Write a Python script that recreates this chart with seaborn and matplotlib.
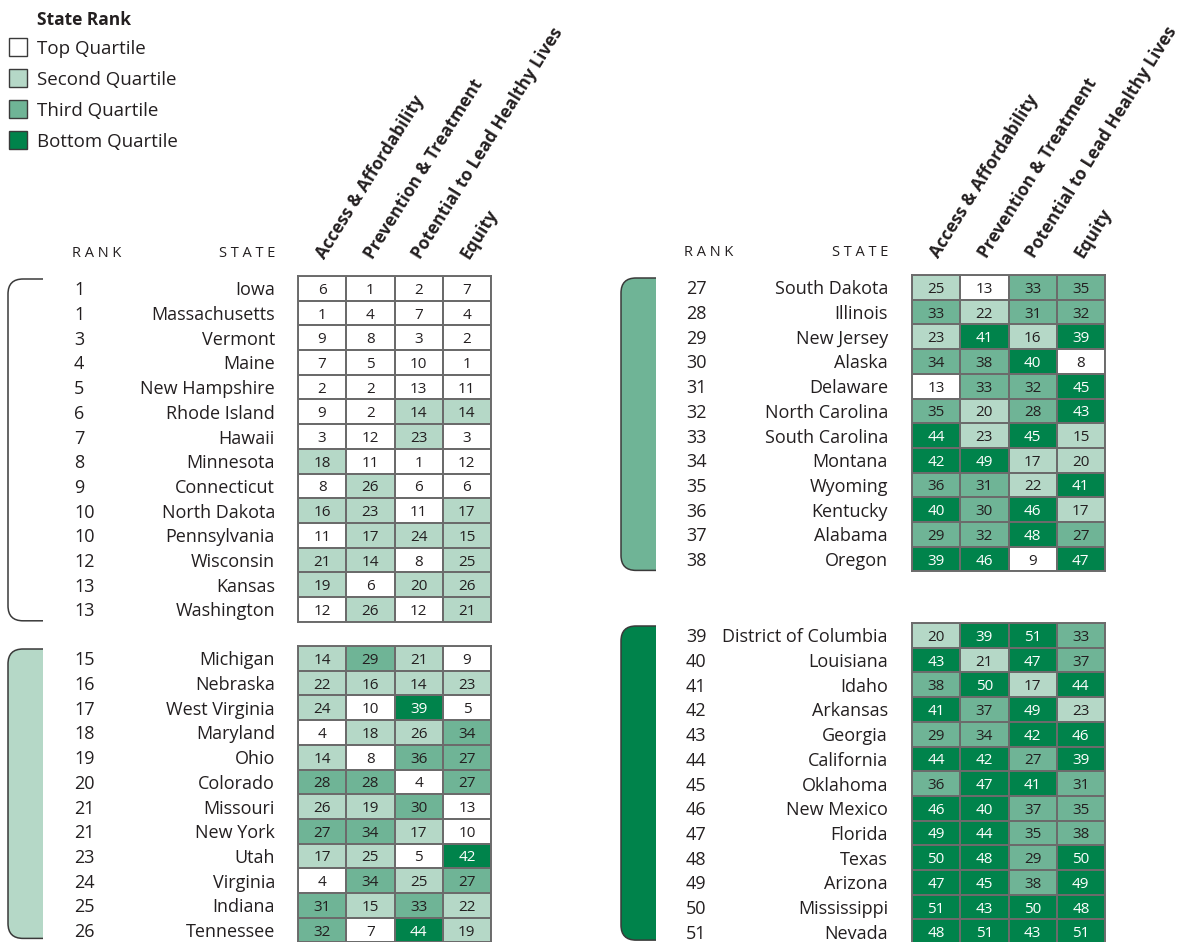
import numpy as np
import seaborn as sns
import matplotlib.pyplot as plt
from matplotlib.path import Path
from matplotlib.patches import PathPatch, Rectangle
from matplotlib.transforms import blended_transform_factory

sns.set_theme(style='white')
plt.rcParams['font.family'] = ['Open Sans', 'DejaVu Sans']

# data
columns = ['Access & Affordability', 'Prevention & Treatment',
           'Potential to Lead Healthy Lives', 'Equity']

ranks_lt = [1, 1, 3, 4, 5, 6, 7, 8, 9, 10, 10, 12, 13, 13]
states_lt = ['Iowa', 'Massachusetts', 'Vermont', 'Maine', 'New Hampshire',
             'Rhode Island', 'Hawaii', 'Minnesota', 'Connecticut',
             'North Dakota', 'Pennsylvania', 'Wisconsin', 'Kansas', 'Washington']
vals_lt = [[6, 1, 2, 7], [1, 4, 7, 4], [9, 8, 3, 2], [7, 5, 10, 1],
           [2, 2, 13, 11], [9, 2, 14, 14], [3, 12, 23, 3], [18, 11, 1, 12],
           [8, 26, 6, 6], [16, 23, 11, 17], [11, 17, 24, 15], [21, 14, 8, 25],
           [19, 6, 20, 26], [12, 26, 12, 21]]

ranks_lb = [15, 16, 17, 18, 19, 20, 21, 21, 23, 24, 25, 26]
states_lb = ['Michigan', 'Nebraska', 'West Virginia', 'Maryland', 'Ohio',
             'Colorado', 'Missouri', 'New York', 'Utah', 'Virginia',
             'Indiana', 'Tennessee']
vals_lb = [[14, 29, 21, 9], [22, 16, 14, 23], [24, 10, 39, 5], [4, 18, 26, 34],
           [14, 8, 36, 27], [28, 28, 4, 27], [26, 19, 30, 13], [27, 34, 17, 10],
           [17, 25, 5, 42], [4, 34, 25, 27], [31, 15, 33, 22], [32, 7, 44, 19]]

ranks_rt = [27, 28, 29, 30, 31, 32, 33, 34, 35, 36, 37, 38]
states_rt = ['South Dakota', 'Illinois', 'New Jersey', 'Alaska', 'Delaware',
             'North Carolina', 'South Carolina', 'Montana', 'Wyoming',
             'Kentucky', 'Alabama', 'Oregon']
vals_rt = [[25, 13, 33, 35], [33, 22, 31, 32], [23, 41, 16, 39], [34, 38, 40, 8],
           [13, 33, 32, 45], [35, 20, 28, 43], [44, 23, 45, 15], [42, 49, 17, 20],
           [36, 31, 22, 41], [40, 30, 46, 17], [29, 32, 48, 27], [39, 46, 9, 47]]

ranks_rb = [39, 40, 41, 42, 43, 44, 45, 46, 47, 48, 49, 50, 51]
states_rb = ['District of Columbia', 'Louisiana', 'Idaho', 'Arkansas',
             'Georgia', 'California', 'Oklahoma', 'New Mexico', 'Florida',
             'Texas', 'Arizona', 'Mississippi', 'Nevada']
vals_rb = [[20, 39, 51, 33], [43, 21, 47, 37], [38, 50, 17, 44], [41, 37, 49, 23],
           [29, 34, 42, 46], [44, 42, 27, 39], [36, 47, 41, 31], [46, 40, 37, 35],
           [49, 44, 35, 38], [50, 48, 29, 50], [47, 45, 38, 49], [51, 43, 50, 48],
           [48, 51, 43, 51]]

quartile_labels = ['Top Quartile', 'Second Quartile', 'Third Quartile', 'Bottom Quartile']
quartile_edges = [13, 26, 38]
colors = ['#ffffff', '#b5d8c7', '#6fb496', '#00834b']

W, H = 1180, 942
ROW = 24.7
fig = plt.figure(figsize=(W / 100, H / 100), dpi=100)

# overlay in pixel coords for legend and brackets
bg = fig.add_axes([0, 0, 1, 1], zorder=0)
bg.set_xlim(0, W)
bg.set_ylim(H, 0)
bg.axis('off')

txt = '#231f20'
grid = '#6b6b6b'


def bracket(x0, x1, y0, y1, fill=None, r=15):
    verts = [(x1, y0), (x0 + r, y0), (x0, y0), (x0, y0 + r), (x0, y1 - r),
             (x0, y1), (x0 + r, y1), (x1, y1)]
    codes = [Path.MOVETO, Path.LINETO, Path.CURVE3, Path.CURVE3, Path.LINETO,
             Path.CURVE3, Path.CURVE3, Path.LINETO]
    if fill is not None:
        bg.add_patch(PathPatch(Path(verts + [(x1, y0)], codes + [Path.CLOSEPOLY]),
                               facecolor=fill, edgecolor='none'))
    bg.add_patch(PathPatch(Path(verts, codes), facecolor='none',
                           edgecolor='#3a3a3a', lw=1.1))


def panel(x0, y0, ranks, states, vals, rank_x, state_x, bfill, bx, header=False):
    data = np.array(vals)
    q = np.digitize(data, quartile_edges, right=True)
    n = len(ranks)
    ax = fig.add_axes([x0 / W, 1 - (y0 + n * ROW) / H, 193 / W, n * ROW / H], zorder=2)
    sns.heatmap(q, ax=ax, cmap=colors, vmin=-0.5, vmax=3.5, cbar=False,
                annot=data, fmt='d', annot_kws={'fontsize': 11, 'color': txt},
                linewidths=1.4, linecolor=grid, xticklabels=False, yticklabels=False)
    for t, v in zip(ax.texts, data.flatten()):
        t.set_va('center_baseline')
        if v > quartile_edges[2]:
            t.set_color('white')
    for s in ax.spines.values():
        s.set_visible(True)
        s.set_color(grid)
        s.set_linewidth(1.4)
    tr = blended_transform_factory(bg.transData, ax.transData)
    for i, (rk, st) in enumerate(zip(ranks, states)):
        ax.text(rank_x, i + 0.5, str(rk), transform=tr, ha='left',
                va='center_baseline', fontsize=13, color=txt)
        ax.text(state_x, i + 0.5, st, transform=tr, ha='right',
                va='center_baseline', fontsize=13, color=txt)
    if header:
        for j, c in enumerate(columns):
            ax.text(j + 0.62, -0.55, c, rotation=58, rotation_mode='anchor',
                    ha='left', va='bottom', fontsize=12.5, fontweight='bold',
                    color=txt, clip_on=False)
        ax.text(rank_x - 2, -1.0, 'R A N K', transform=tr, ha='left',
                va='center_baseline', fontsize=10.5, color=txt)
        ax.text(state_x, -1.0, 'S T A T E', transform=tr, ha='right',
                va='center_baseline', fontsize=10.5, color=txt)
    bracket(bx, bx + 35, y0 + 3, y0 + n * ROW - (1 if n * ROW + y0 < H - 5 else 4),
            fill=bfill)
    return ax


panel(298, 276, ranks_lt, states_lt, vals_lt, 74, 275, None, 8, header=True)
panel(298, 646, ranks_lb, states_lb, vals_lb, 74, 275, colors[1], 8)
panel(912, 275, ranks_rt, states_rt, vals_rt, 686, 888, colors[2], 621, header=True)
panel(912, 623, ranks_rb, states_rb, vals_rb, 686, 888, colors[3], 621)

# legend
bg.text(37, 18, 'State Rank', ha='left', va='center_baseline', fontsize=12.5,
        fontweight='bold', color=txt)
for k, (lab, col) in enumerate(zip(quartile_labels, colors)):
    yc = 47 + k * 31
    bg.add_patch(Rectangle((9, yc - 9), 18, 18, facecolor=col, edgecolor='#3a3a3a', lw=1))
    bg.text(37, yc, lab, ha='left', va='center_baseline', fontsize=13.5, color=txt)

fig.savefig('out.png', dpi=100)
